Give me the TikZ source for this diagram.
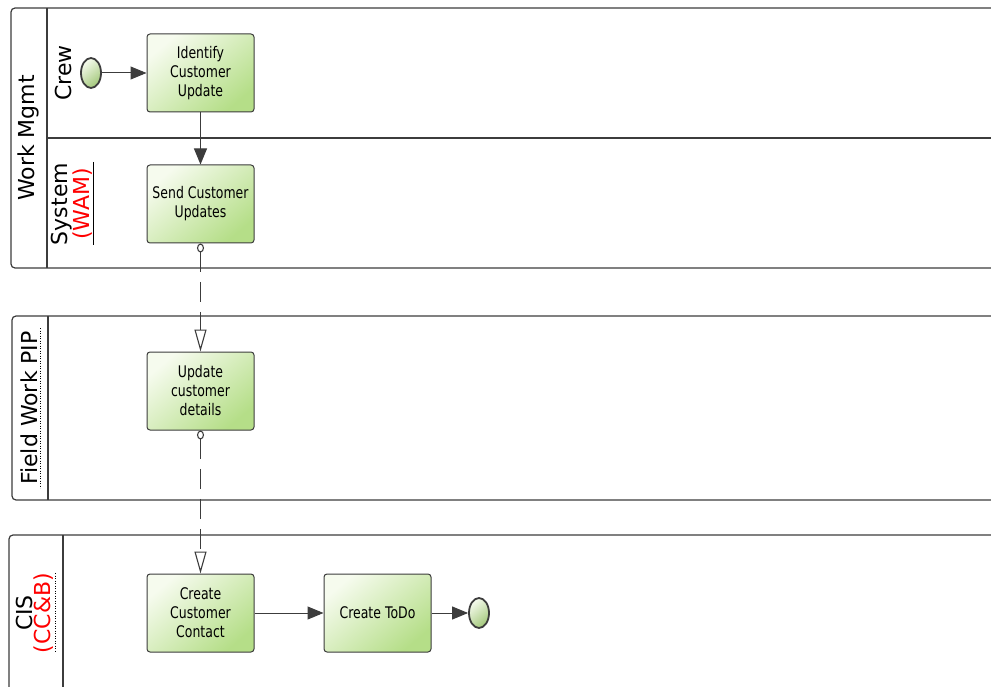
\documentclass[tikz,border=0pt]{standalone}
\usepackage{fontspec}
\setmainfont{DejaVu Sans}
\newfontfamily\taskfont[FakeStretch=0.78]{DejaVu Sans}
\usetikzlibrary{shapes.geometric,arrows.meta}
\definecolor{taskgreen}{RGB}{181,222,136}
\definecolor{paleg}{RGB}{246,251,238}
\definecolor{linegray}{RGB}{60,60,60}
\definecolor{poolred}{RGB}{255,0,0}

\begin{document}
\begin{tikzpicture}[x=1pt,y=-1pt,
	pool/.style={draw=linegray, line width=1.2pt, rounded corners=4pt},
	lanelabel/.style={rotate=90, align=center, font=\fontsize{22}{18}\selectfont},
	task/.style={draw=linegray, line width=1pt, rounded corners=3pt, minimum width=107pt, minimum height=78pt,
		top color=paleg, middle color=taskgreen!92!white, bottom color=taskgreen, shading angle=40,
		align=center, inner sep=0pt, font=\taskfont\fontsize{16}{19}\selectfont},
	event/.style={ellipse, draw=linegray, line width=1.8pt, minimum width=20pt, minimum height=30pt, inner sep=0pt,
		top color=paleg, middle color=taskgreen!92!white, bottom color=taskgreen!90!black, shading angle=40},
	flow/.style={draw=linegray, line width=1pt, -{Triangle[length=16pt,width=13pt]}},
	msg/.style={draw=linegray, line width=1.1pt, dash pattern=on 20pt off 10pt,
		{Circle[open,length=9pt,width=7pt,fill=white]}-{Triangle[open,length=22pt,width=12pt,fill=white]}}
]
\useasboundingbox (0,0) rectangle (991,687);

% pools
\draw[pool] (1000,8) -- (11,8) -- (11,268) -- (1000,268);
\draw[linegray, line width=1.2pt] (47,8) -- (47,268);
\draw[linegray, line width=1.2pt] (47,138) -- (1000,138);
\draw[pool] (1000,316) -- (12,316) -- (12,500) -- (1000,500);
\draw[linegray, line width=1.2pt] (48,316) -- (48,500);
\draw[pool] (1000,535) -- (9,535) -- (9,700);
\draw[linegray, line width=1.2pt] (63,535) -- (63,700);

% labels
\node[lanelabel] (wm) at (28,138) {Work Mgmt};
\node[lanelabel] (crew) at (63,73) {Crew};
\node[lanelabel] (sys) at (72,204) {System\\\textcolor{poolred}{(WAM)}};
\draw[black, line width=0.6pt] (93,162) -- (93,245);
\node[lanelabel] (fw) at (29,408) {Field Work PIP};
\draw[black, line width=0.5pt, dotted] (40,328) -- (40,488);
\node[lanelabel] (cis) at (35,613) {CIS\\\textcolor{poolred}{(CC\&B)}};
\draw[black, line width=0.5pt, dotted] (55,573) -- (55,652);

% tasks and events
\node[event] (start) at (91,73) {};
\node[task] (ident) at (200.5,73) {Identify\\Customer\\Update};
\node[task] (send) at (200.5,204) {Send Customer\\Updates};
\node[task] (upd) at (200.5,391) {Update\\customer\\details};
\node[task] (contact) at (200.5,613) {Create\\Customer\\Contact};
\node[task] (todo) at (377.5,613) {Create ToDo};
\node[event] (end) at (479,613) {};

% connectors
\draw[flow] (start) -- (ident);
\draw[flow] (ident) -- (send);
\draw[msg] (send) -- (upd);
\draw[msg] (upd) -- (contact);
\draw[flow] (contact) -- (todo);
\draw[flow] (todo) -- (end);
\end{tikzpicture}
\end{document}
